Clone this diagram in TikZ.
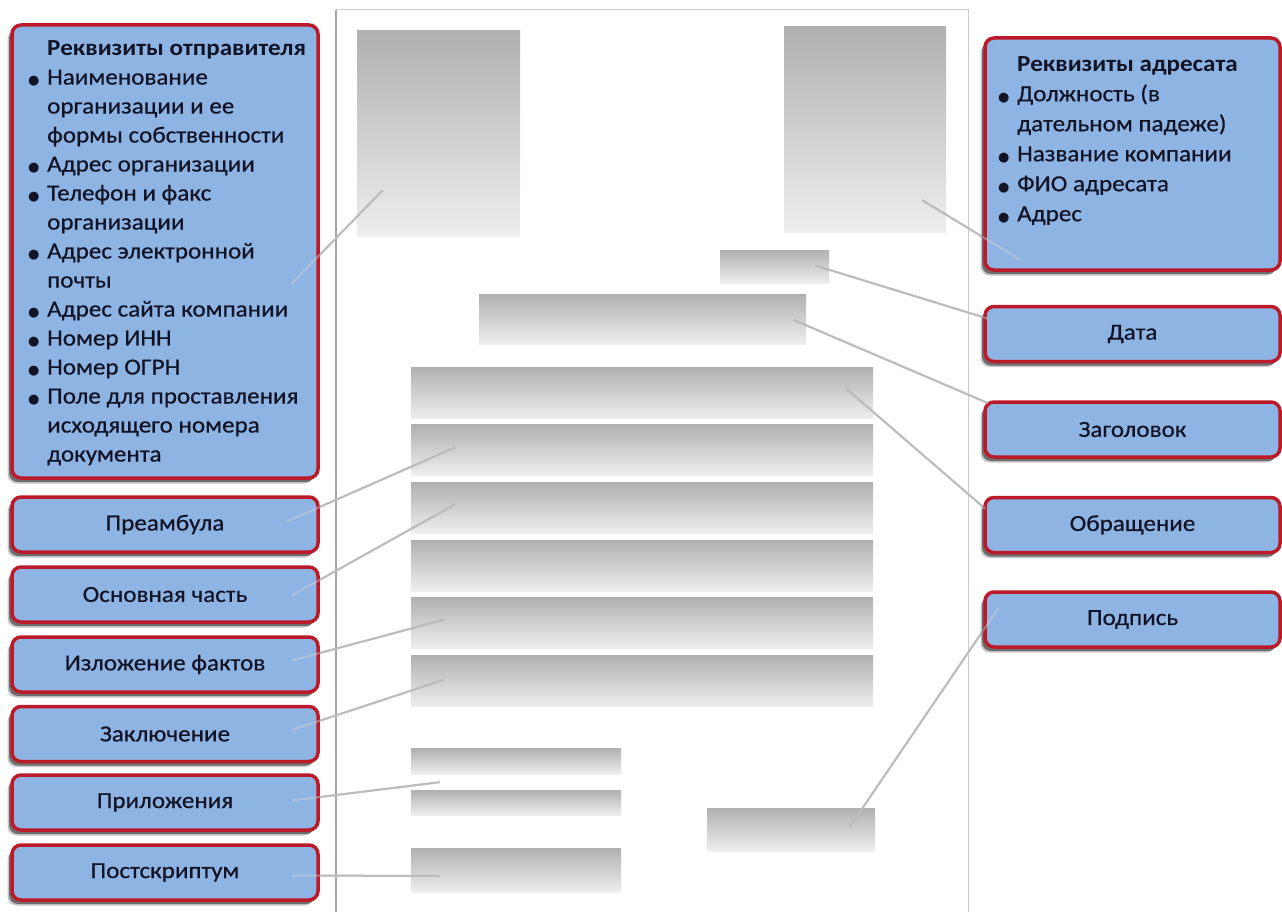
\documentclass[tikz,border=0pt]{standalone}
\usepackage{fontspec}
\setmainfont{Carlito}[FakeStretch=1.09, UprightFeatures={FakeBold=0.6}]
\newfontfamily\djv{DejaVu Sans}
\usetikzlibrary{shadows,calc}
\pgfdeclarelayer{front}
\pgfsetlayers{main,front}
\definecolor{boxfill}{RGB}{142,180,227}
\definecolor{boxline}{RGB}{188,26,40}
\definecolor{txt}{RGB}{18,20,38}
\definecolor{conn}{RGB}{172,172,172}
\definecolor{pageline}{RGB}{205,205,205}
\definecolor{gtop}{RGB}{176,176,176}
\definecolor{gbot}{RGB}{238,238,238}
\newcommand\mybul{{\djv\fontsize{13}{13}\selectfont ●}}
\tikzset{
 lbox/.style={draw=boxline, line width=3.5pt, fill=boxfill, rounded corners=9pt,
   drop shadow={shadow xshift=-4.5pt, shadow yshift=-5.5pt, opacity=0.22, fill=black},
   drop shadow={shadow xshift=-3pt, shadow yshift=-4pt, opacity=0.45, fill=black},
   text=txt, font=\fontsize{23}{26}\selectfont, inner sep=0pt},
 prect/.style={top color=gtop, bottom color=gbot, draw=none, inner sep=0pt},
 link/.style={draw=conn, line width=2pt},
 faintlink/.style={draw=conn!55!white, line width=2pt, opacity=0.45},
}
\newcommand\mylinks[1]{%
\draw[#1] ($(sender.east)+(-28,32)$) -- ($(r1.south west)+(26,-46)$);
\draw[#1] ($(recip.south west)+(37,-12)$) -- ($(r2.south east)+(-24,-32)$);
\draw[#1] ($(date.north west)+(5,14)$) -- ($(rdate.east)+(-14,-1)$);
\draw[#1] ($(title.north west)+(5,3)$) -- ($(rtitle.north east)+(-13,26)$);
\draw[#1] ($(addr.north west)+(2,13)$) -- ($(b1.north east)+(-28,21)$);
\draw[#1] ($(sign.north west)+(15,18)$) -- ($(sig.north west)+(143,19)$);
\draw[#1] ($(pre.east)+(-33,-3)$) -- ($(b2.west)+(44,-2)$);
\draw[#1] ($(main.east)+(-28,1)$) -- ($(b3.west)+(44,-3)$);
\draw[#1] ($(facts.east)+(-28,-4)$) -- ($(b5.west)+(34,-3)$);
\draw[#1] ($(concl.east)+(-28,-4)$) -- ($(b6.west)+(34,-1)$);
\draw[#1] ($(app.east)+(-28,-2)$) -- ($(a1.south west)+(29,8)$);
\draw[#1] ($(post.east)+(-28,3)$) -- ($(ps.west)+(29,6)$);
}
\begin{document}
\begin{tikzpicture}[x=1pt,y=-1pt]
\useasboundingbox[fill=white] (0,0) rectangle (1282,912);
% page
\draw[pageline, line width=1pt] (336,920) -- (336,10) -- (968,10) -- (968,920);
\draw[gray!70, line width=1.5pt] (336,920) -- (336,10);
% page rectangles
\node[prect, minimum width=163pt, minimum height=205pt] (r1) at (438.5,133.5) {};
\node[prect, minimum width=162pt, minimum height=205pt] (r2) at (865,129.5) {};
\node[prect, minimum width=109pt, minimum height=33pt] (rdate) at (774.5,266.5) {};
\node[prect, minimum width=327pt, minimum height=50pt] (rtitle) at (642.5,319) {};
\node[prect, minimum width=462pt, minimum height=51pt] (b1) at (642,392.5) {};
\node[prect, minimum width=462pt, minimum height=51pt] (b2) at (642,449.5) {};
\node[prect, minimum width=462pt, minimum height=51pt] (b3) at (642,507.5) {};
\node[prect, minimum width=462pt, minimum height=51pt] (b4) at (642,565.5) {};
\node[prect, minimum width=462pt, minimum height=51pt] (b5) at (642,622.5) {};
\node[prect, minimum width=462pt, minimum height=51pt] (b6) at (642,680.5) {};
\node[prect, minimum width=210pt, minimum height=26pt] (a1) at (516,761) {};
\node[prect, minimum width=210pt, minimum height=25pt] (a2) at (516,802.5) {};
\node[prect, minimum width=210pt, minimum height=44pt] (ps) at (516,870) {};
\node[prect, minimum width=168pt, minimum height=43pt] (sig) at (791,829.5) {};
\begin{pgfonlayer}{front}
% left boxes
\node[lbox, minimum width=306pt, minimum height=453pt] (sender) at (165,251.5) {};
\node[anchor=north west, text=txt, inner sep=0pt, font=\fontsize{23}{29}\selectfont] (sendertxt) at (28,35) {%
\begin{tabular}{@{}p{19pt}@{}l@{}}
 & \textbf{Реквизиты отправителя}\\
\mybul & Наименование\\
 & организации и ее\\
 & формы собственности\\
\mybul & Адрес организации\\
\mybul & Телефон и факс\\
 & организации\\
\mybul & Адрес электронной\\
 & почты\\
\mybul & Адрес сайта компании\\
\mybul & Номер ИНН\\
\mybul & Номер ОГРН\\
\mybul & Поле для проставления\\
 & исходящего номера\\
 & документа
\end{tabular}};
\node[lbox, minimum width=306pt, minimum height=55pt] (pre) at (165,524.5) {Преамбула};
\node[lbox, minimum width=306pt, minimum height=55pt] (main) at (165,594.5) {Основная часть};
\node[lbox, minimum width=306pt, minimum height=55pt] (facts) at (165,664.5) {Изложение фактов};
\node[lbox, minimum width=306pt, minimum height=55pt] (concl) at (165,734) {Заключение};
\node[lbox, minimum width=306pt, minimum height=55pt] (app) at (165,802.5) {Приложения};
\node[lbox, minimum width=306pt, minimum height=55pt] (post) at (165,872.5) {Постскриптум};
% right boxes
\node[lbox, minimum width=295pt, minimum height=232pt] (recip) at (1132.5,154) {};
\node[anchor=north west, text=txt, inner sep=0pt, font=\fontsize{23}{30}\selectfont] (reciptxt) at (998,50) {%
\begin{tabular}{@{}p{19pt}@{}l@{}}
 & \textbf{Реквизиты адресата}\\
\mybul & Должность (в\\
 & дательном падеже)\\
\mybul & Название компании\\
\mybul & ФИО адресата\\
\mybul & Адрес
\end{tabular}};
\node[lbox, minimum width=295pt, minimum height=55pt] (date) at (1132.5,334) {Дата};
\node[lbox, minimum width=295pt, minimum height=55pt] (title) at (1132.5,429.5) {Заголовок};
\node[lbox, minimum width=295pt, minimum height=55pt] (addr) at (1132.5,525) {Обращение};
\node[lbox, minimum width=295pt, minimum height=55pt] (sign) at (1132.5,619.5) {Подпись};
\end{pgfonlayer}
% connectors: full under the boxes, faint over them
\mylinks{link}
\begin{pgfonlayer}{front}
\mylinks{faintlink}
\end{pgfonlayer}
\end{tikzpicture}
\end{document}
